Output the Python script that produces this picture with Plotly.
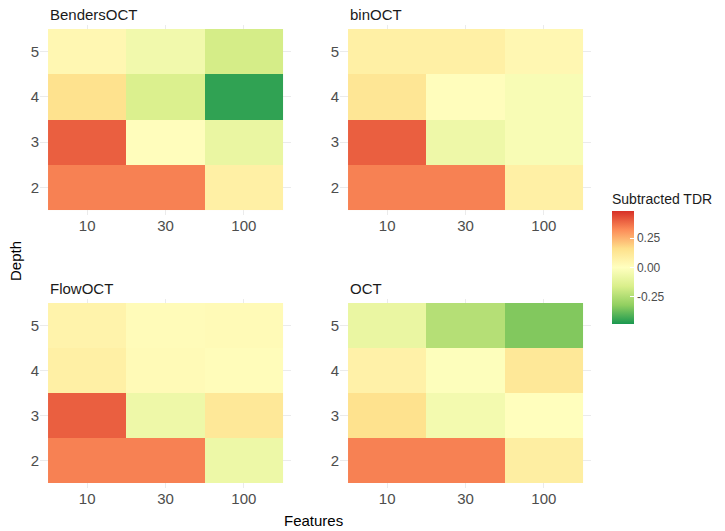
import plotly.graph_objects as go

# Facet data: rows are depths 2..5, columns are feature counts 10, 30, 100
features = ["10", "30", "100"]
depths = ["2", "3", "4", "5"]
methods = ["BendersOCT", "binOCT", "FlowOCT", "OCT"]

benders_oct = [
    [0.34, 0.34, 0.08],
    [0.40, 0.01, -0.09],
    [0.15, -0.15, -0.45],
    [0.04, -0.06, -0.17],
]
bin_oct = [
    [0.34, 0.34, 0.08],
    [0.40, -0.07, -0.03],
    [0.13, 0.01, -0.03],
    [0.08, 0.08, 0.04],
]
flow_oct = [
    [0.34, 0.34, -0.075],
    [0.40, -0.07, 0.12],
    [0.08, 0.025, 0.015],
    [0.06, 0.02, 0.025],
]
oct_ = [
    [0.34, 0.34, 0.09],
    [0.15, -0.05, 0.005],
    [0.07, -0.01, 0.12],
    [-0.09, -0.24, -0.34],
]
values = [benders_oct, bin_oct, flow_oct, oct_]

# Colour bar ticks
cbar_ticks = [-0.25, 0.0, 0.25]
cbar_labels = ["-0.25", "0.00", "0.25"]
z_limit = 0.48

# RdYlGn (7 classes), low values green, high values red
palette = ["#1a9850", "#91cf60", "#d9ef8b", "#ffffbf", "#fee08b", "#fc8d59", "#d73027"]
colorscale = [[i / (len(palette) - 1), c] for i, c in enumerate(palette)]

W, H = 725, 531
FONT = "Liberation Sans, Arial, sans-serif"

# Panel rectangles in pixels (left, right, top, bottom)
panels = [
    (40.2, 290.8, 24.5, 214.5),
    (340.2, 590.8, 24.5, 214.5),
    (40.2, 290.8, 298.5, 487.5),
    (340.2, 590.8, 298.5, 487.5),
]

fig = go.Figure()
layout = dict(
    width=W, height=H,
    margin=dict(l=0, r=0, t=0, b=0),
    paper_bgcolor="white", plot_bgcolor="white",
    font=dict(family=FONT, color="#4d4d4d"),
    showlegend=False,
    coloraxis=dict(
        colorscale=colorscale, cmin=-z_limit, cmax=z_limit,
        colorbar=dict(
            title=dict(text="Subtracted TDR", side="top",
                       font=dict(size=14, color="#1a1a1a", family=FONT)),
            x=612 / W, xanchor="left", xpad=0,
            y=1 - 190 / H, yanchor="top", ypad=0,
            thickness=22, thicknessmode="pixels",
            len=134, lenmode="pixels",
            outlinewidth=0,
            tickvals=cbar_ticks, ticktext=cbar_labels,
            ticks="inside", ticklen=4, tickcolor="white", tickwidth=1,
            tickfont=dict(size=12, color="#4d4d4d", family=FONT),
        ),
    ),
)

annotations = []
for i, (name, z) in enumerate(zip(methods, values)):
    n = i + 1
    xa = "x" if n == 1 else f"x{n}"
    ya = "y" if n == 1 else f"y{n}"
    fig.add_trace(go.Heatmap(
        x=features, y=depths, z=z, coloraxis="coloraxis",
        xaxis=xa, yaxis=ya, xgap=0, ygap=0, hoverongaps=False,
    ))
    l, r, t, b = panels[i]
    xkey = "xaxis" if n == 1 else f"xaxis{n}"
    ykey = "yaxis" if n == 1 else f"yaxis{n}"
    layout[xkey] = dict(
        domain=[l / W, r / W], anchor=ya, type="category",
        categoryorder="array", categoryarray=features,
        range=[-0.6, 2.6], showgrid=True, gridcolor="#ebebeb", gridwidth=1,
        zeroline=False, showline=False, ticks="",
        tickfont=dict(size=15, color="#4d4d4d", family=FONT),
    )
    layout[ykey] = dict(
        domain=[1 - b / H, 1 - t / H], anchor=xa, type="category",
        categoryorder="array", categoryarray=depths,
        range=[-0.6, 3.6], showgrid=True, gridcolor="#ebebeb", gridwidth=1,
        zeroline=False, showline=False, ticks="",
        tickfont=dict(size=15, color="#4d4d4d", family=FONT),
    )
    # Facet strip label
    annotations.append(dict(
        text=name, xref="paper", yref="paper",
        x=(l + 7.5) / W, y=1 - (t - 10) / H, xanchor="left", yanchor="middle",
        showarrow=False, font=dict(size=15, color="#1a1a1a", family=FONT),
    ))

annotations.append(dict(
    text="Features", xref="paper", yref="paper", x=313 / W, y=1 - 520 / H,
    xanchor="center", yanchor="middle", showarrow=False,
    font=dict(size=15, color="black", family=FONT),
))
annotations.append(dict(
    text="Depth", xref="paper", yref="paper", x=15 / W, y=1 - 261 / H,
    xanchor="center", yanchor="middle", textangle=-90, showarrow=False,
    font=dict(size=15, color="black", family=FONT),
))
layout["annotations"] = annotations

fig.update_layout(**layout)
fig.write_html("out.html")
